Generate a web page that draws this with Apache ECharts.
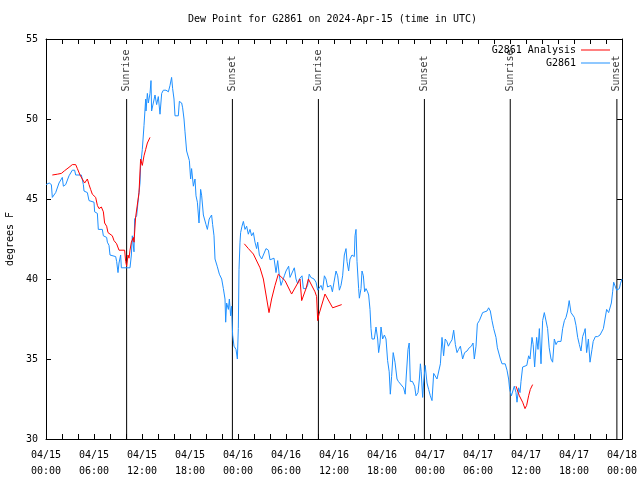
<!DOCTYPE html>
<html>
<head>
<meta charset="utf-8">
<script src="https://cdn.jsdelivr.net/npm/echarts@6/dist/echarts.min.js"></script>
<style>html,body{margin:0;padding:0;background:#fff;}#c{width:640px;height:480px;}</style>
</head>
<body>
<div id="c"></div>
<script>
// hours since 2024-04-15 00:00 UTC
var stationHours = [0.0,0.4,0.67,0.79,1.21,1.625,2.04,2.17,2.46,2.875,3.29,3.58,3.71,4.42,4.67,4.75,5.17,5.375,6.0,6.08,6.42,6.54,7.04,7.17,7.58,7.67,7.875,8.0,8.71,8.83,9.0,9.125,9.33,9.42,10.5,10.67,10.79,11.0,11.08,11.33,11.5,11.75,11.83,12.04,12.25,12.46,12.5,12.67,12.79,13.0,13.125,13.2,13.42,13.625,13.83,14.04,14.25,14.46,14.67,15.0,15.3,15.5,15.7,15.83,16.0,16.125,16.54,16.67,16.96,17.08,17.25,17.375,17.58,17.92,18.08,18.2,18.42,18.625,18.75,18.92,19.125,19.33,19.46,19.67,19.875,20.0,20.17,20.4,20.7,20.83,21.0,21.125,21.4,21.67,21.96,22.17,22.375,22.46,22.58,22.8,22.92,23.08,23.2,23.33,23.5,23.75,23.92,24.04,24.125,24.25,24.33,24.5,24.67,24.875,25.08,25.29,25.5,25.7,25.92,26.125,26.33,26.46,26.67,26.96,27.17,27.5,27.8,28.0,28.2,28.5,28.75,28.96,29.17,29.375,29.58,29.79,30.0,30.33,30.5,30.75,31.04,31.25,31.46,31.67,32.0,32.17,32.5,32.7,32.9,33.1,33.3,33.5,33.75,33.96,34.17,34.375,34.58,34.8,35.0,35.2,35.4,35.6,35.8,36.0,36.25,36.46,36.67,36.875,37.08,37.29,37.5,37.625,37.83,38.0,38.25,38.54,38.625,38.75,38.875,39.08,39.17,39.375,39.5,39.67,39.83,40.0,40.2,40.33,40.5,40.625,40.75,41.04,41.25,41.46,41.58,41.75,41.875,42.08,42.3,42.5,42.7,42.9,43.04,43.2,43.4,43.625,43.875,44.04,44.29,44.7,44.9,45.04,45.25,45.4,45.54,45.8,46.08,46.25,46.5,46.67,46.8,46.9,47.08,47.2,47.4,47.625,47.83,48.04,48.25,48.46,48.67,48.875,49.08,49.3,49.5,49.7,49.9,50.1,50.3,50.5,50.75,50.96,51.17,51.375,51.58,51.8,52.08,52.33,52.625,52.9,53.17,53.375,53.54,53.75,53.92,54.17,54.42,54.58,54.83,55.125,55.33,55.54,55.75,55.96,56.25,56.42,56.58,56.8,57.0,57.4,57.625,57.83,57.96,58.17,58.4,58.54,58.75,58.875,59.08,59.25,59.375,59.58,59.8,60.1,60.33,60.5,60.75,60.9,61.08,61.33,61.5,61.67,61.875,62.08,62.29,62.5,62.7,62.9,63.125,63.33,63.54,63.75,63.96,64.375,64.58,64.8,65.0,65.2,65.4,65.625,65.83,66.04,66.25,66.46,66.67,66.875,67.08,67.29,67.4,67.58,67.8,68.0,68.25,68.4,68.67,68.96,69.25,69.5,69.67,69.9,70.08,70.33,70.5,70.67,70.83,70.96,71.08,71.17,71.33,71.67,71.8,72.0];
var stationValues = [45.9,46.0,45.9,45.1,45.4,46.0,46.35,45.8,45.9,46.45,46.8,46.8,46.5,46.5,45.9,45.5,45.4,44.9,44.8,44.2,44.1,43.1,43.1,42.7,42.6,42.3,42.1,41.5,41.4,41.1,40.4,41.0,41.5,40.7,40.7,41.5,42.7,41.7,43.75,43.95,44.8,46.0,47.1,48.1,49.6,51.25,50.5,51.6,51.0,51.6,52.4,50.5,50.6,51.5,50.9,51.4,50.3,51.6,51.8,51.8,51.7,52.1,52.6,51.9,51.25,50.2,50.2,51.1,51.0,50.7,50.0,49.2,48.0,47.4,46.25,46.9,45.8,46.25,45.2,44.8,43.5,45.6,45.2,44.0,44.0,43.4,43.1,43.75,44.0,43.4,42.7,41.25,40.8,40.3,40.0,39.4,38.75,37.3,38.5,38.1,38.75,37.7,38.3,36.5,35.8,35.6,35.0,36.9,40.6,42.3,42.9,43.3,43.6,43.1,43.3,42.8,43.1,42.7,42.9,42.3,41.9,42.3,41.5,41.25,41.5,41.9,41.8,41.2,41.1,41.3,40.4,41.15,40.2,39.6,39.9,40.2,40.5,40.8,40.1,40.2,40.7,40.0,39.7,40.0,40.2,39.4,39.4,39.6,40.3,40.1,40.2,40.0,39.8,39.3,39.4,39.6,39.3,40.2,40.0,39.5,39.4,39.6,39.2,39.8,40.5,40.2,39.3,39.6,40.2,41.5,41.9,41.1,40.5,41.25,41.5,41.4,42.7,43.1,41.1,39.4,38.8,39.4,40.5,40.2,39.2,39.4,39.2,39.0,38.1,36.9,36.25,36.25,37.0,36.25,35.4,36.0,37.0,36.25,36.5,36.25,34.9,34.2,32.8,33.9,35.4,34.8,33.75,33.6,33.6,33.2,32.8,34.0,35.6,36.0,33.6,33.6,33.3,32.7,32.9,33.75,34.7,34.2,32.6,33.5,34.6,33.5,33.1,32.7,32.4,34.1,34.0,33.75,33.85,34.7,36.35,35.2,36.25,36.1,35.8,36.0,36.2,36.8,35.9,35.4,35.6,35.8,35.0,35.4,35.5,35.7,35.8,36.0,35.0,35.8,37.2,37.4,37.3,37.9,37.9,38.0,38.2,38.0,37.4,36.9,36.35,35.7,35.6,35.0,34.7,34.7,34.3,33.75,33.1,32.7,32.7,33.3,32.9,32.3,33.2,32.9,33.6,34.5,34.4,34.6,35.2,35.0,36.35,35.9,34.5,36.35,35.6,36.9,34.7,37.4,37.9,37.9,36.9,35.7,35.0,34.8,36.25,35.9,36.1,36.1,36.9,37.4,37.6,38.0,38.65,37.9,37.8,37.6,37.1,36.35,35.9,35.5,36.4,36.7,36.9,35.4,36.25,34.8,35.6,36.1,36.4,36.4,36.5,36.4,36.9,37.0,38.1,37.9,37.9,38.5,39.2,39.8,39.9,39.7,39.3,39.4,39.7,40.0];

// analysis series; null marks a gap
var analysisHours = [0.79,1.42,1.92,2.33,2.875,3.29,3.71,3.92,4.25,4.54,4.83,5.17,5.375,5.58,5.79,6.0,6.21,6.42,6.625,6.92,7.17,7.33,7.58,7.75,8.0,8.29,8.5,8.83,9.125,9.83,9.96,10.08,10.25,10.375,10.5,10.67,10.92,11.0,11.2,11.42,11.625,11.83,12.04,12.25,12.46,12.67,13.0,
  18.0,
  24.79,25.3,25.92,26.75,27.17,27.875,28.2,28.625,29.04,29.875,30.7,31.75,31.96,32.5,32.8,33.625,33.83,33.96,34.125,34.875,35.83,36.96,
  48.0,
  58.75,59.17,59.58,59.875,60.08,60.33,60.54,60.83];
var analysisValues = [46.5,46.55,46.6,46.77,46.98,47.15,47.15,46.9,46.5,46.25,46.0,46.25,45.9,45.6,45.3,45.4,45.1,44.6,44.4,44.5,44.2,43.5,43.3,42.9,42.8,42.7,42.4,42.2,41.8,41.8,41.1,40.8,41.5,41.3,41.8,42.3,42.6,42.3,43.85,43.95,45.4,47.5,47.1,47.7,48.1,48.5,48.85,
  null,
  42.2,41.9,41.56,40.7,40.0,37.9,38.75,39.6,40.3,39.9,39.06,40.0,38.65,39.4,40.0,39.2,38.9,37.4,37.8,39.06,38.2,38.4,
  null,
  33.3,32.7,32.3,31.9,32.1,32.7,33.1,33.4];

var sunHours = [10.08, 23.3, 34.05, 47.3, 58.03, 71.36];
var sunLabels = ['Sunrise', 'Sunset', 'Sunrise', 'Sunset', 'Sunrise', 'Sunset'];
var sunLineTop = 51.25;

var xTickLabels = ['04/15\n00:00','04/15\n06:00','04/15\n12:00','04/15\n18:00','04/16\n00:00','04/16\n06:00','04/16\n12:00','04/16\n18:00','04/17\n00:00','04/17\n06:00','04/17\n12:00','04/17\n18:00','04/18\n00:00'];
var yMin = 30, yMax = 55, yStep = 5;

var FONT = 'DejaVu Sans Mono';
var chart = echarts.init(document.getElementById('c'), null, {renderer: 'canvas'});

var axisLineStyle = {show: true, onZero: false, lineStyle: {color: '#000', width: 1}};
var tickStyle = {show: true, inside: true, length: 5, lineStyle: {color: '#000', width: 1}};

var series = [];
sunHours.forEach(function (h, i) {
  series.push({
    type: 'line', silent: true, symbol: 'none', animation: false,
    data: [[h, yMin], [h, sunLineTop]],
    lineStyle: {color: '#000', width: 1}, z: 1
  });
});
series.push({
  type: 'scatter', silent: true, symbol: 'rect', symbolSize: 1, animation: false,
  itemStyle: {color: 'rgba(0,0,0,0)'},
  data: sunHours.map(function (h) { return [h, sunLineTop]; }),
  label: {
    show: true, position: 'top', distance: 7, rotate: 90, align: 'left', verticalAlign: 'middle',
    fontFamily: FONT, fontSize: 10, color: '#000',
    formatter: function (p) { return sunLabels[p.dataIndex]; }
  }, z: 1
});
series.push({
  name: 'G2861 Analysis', type: 'line', symbol: 'none', animation: false,
  data: analysisHours.map(function (h, i) { return [h, analysisValues[i] === null ? '-' : analysisValues[i]]; }),
  lineStyle: {color: '#ff0000', width: 1}, itemStyle: {color: '#ff0000'}, z: 3
});
series.push({
  name: 'G2861', type: 'line', symbol: 'none', animation: false,
  data: stationHours.map(function (h, i) { return [h, stationValues[i]]; }),
  lineStyle: {color: '#1e90ff', width: 1}, itemStyle: {color: '#1e90ff'}, z: 2
});

chart.setOption({
  animation: false,
  backgroundColor: '#fff',
  title: {
    text: 'Dew Point for G2861 on 2024-Apr-15 (time in UTC)',
    left: 188, top: 14, padding: 0,
    textStyle: {fontFamily: FONT, fontSize: 10, fontWeight: 'normal', color: '#000'}
  },
  legend: {
    data: ['G2861 Analysis', 'G2861'],
    orient: 'vertical', right: 30, top: 44, align: 'right',
    icon: 'rect', itemWidth: 29, itemHeight: 1, itemGap: 1, padding: 0,
    textStyle: {fontFamily: FONT, fontSize: 10, color: '#000', lineHeight: 12}
  },
  grid: {left: 46, right: 18, top: 39, bottom: 41, containLabel: false, outerBoundsMode: 'none'},
  xAxis: [{
    type: 'value', min: 0, max: 72, interval: 2, position: 'bottom',
    axisLine: axisLineStyle, axisTick: tickStyle, splitLine: {show: false},
    axisLabel: {
      margin: 8, fontFamily: FONT, fontSize: 10, color: '#000', lineHeight: 16,
      formatter: function (v) { return v % 6 === 0 ? xTickLabels[v / 6] : ''; }
    }
  }, {
    type: 'value', min: 0, max: 72, interval: 2, position: 'top',
    axisLine: axisLineStyle, axisTick: tickStyle, splitLine: {show: false}, axisLabel: {show: false}
  }],
  yAxis: [{
    type: 'value', min: yMin, max: yMax, interval: yStep, position: 'left',
    name: 'degrees F', nameLocation: 'middle', nameGap: 30,
    nameTextStyle: {fontFamily: FONT, fontSize: 10, color: '#000'},
    axisLine: axisLineStyle, axisTick: tickStyle, splitLine: {show: false},
    axisLabel: {margin: 8, fontFamily: FONT, fontSize: 10, color: '#000'}
  }, {
    type: 'value', min: yMin, max: yMax, interval: yStep, position: 'right',
    axisLine: axisLineStyle, axisTick: tickStyle, splitLine: {show: false}, axisLabel: {show: false}
  }],
  series: series
});
</script>
</body>
</html>
